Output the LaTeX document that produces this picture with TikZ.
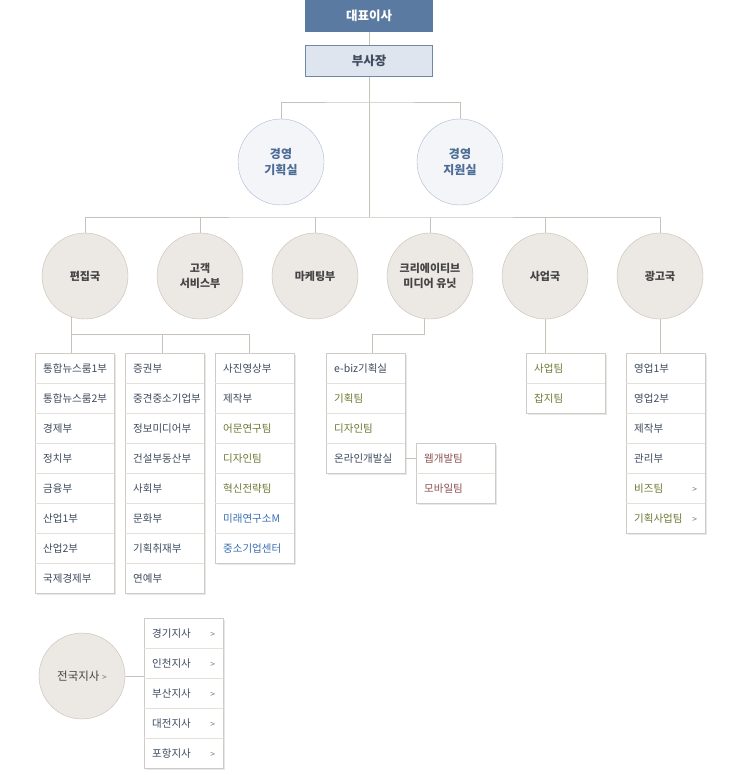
\documentclass[tikz,border=0pt]{standalone}
\usepackage{fontspec}
\setmainfont{Noto Sans CJK KR}
\usetikzlibrary{positioning, fit, backgrounds, shadows}

\definecolor{ceoblue}{HTML}{5B7AA1}
\definecolor{vpfill}{HTML}{DEE5EE}
\definecolor{vpline}{HTML}{6F88A8}
\definecolor{offfill}{HTML}{F3F5F8}
\definecolor{offline}{HTML}{A8B9CF}
\definecolor{offtext}{HTML}{4D6C96}
\definecolor{deptfill}{HTML}{ECE8E3}
\definecolor{deptline}{HTML}{C6BEB4}
\definecolor{depttext}{HTML}{444444}
\definecolor{linegray}{HTML}{C8C2BA}
\definecolor{frameline}{HTML}{D0CBC4}
\definecolor{sepline}{HTML}{E4E0DB}
\definecolor{ink}{HTML}{3F4B5E}
\definecolor{olive}{HTML}{6C7A35}
\definecolor{linkblue}{HTML}{3A6FB4}
\definecolor{rust}{HTML}{8E5252}
\definecolor{chevgray}{HTML}{777777}

\newcommand{\morechev}{\hskip 0pt plus 1fill{\color{chevgray}\fontsize{8.5}{8}\selectfont >}}

\begin{document}
\begin{tikzpicture}[
        x=1pt, y=-1pt,
        ceo/.style={
            fill=ceoblue,
            text=white,
            minimum width=128pt,
            minimum height=32pt,
            font=\bfseries\fontsize{12.5}{14}\selectfont
        },
        vp/.style={
            draw=vpline,
            fill=vpfill,
            text=ink,
            line width=0.9pt,
            minimum width=127pt,
            minimum height=31pt,
            font=\bfseries\fontsize{12.5}{14}\selectfont
        },
        office/.style={
            circle,
            draw=offline,
            fill=offfill,
            text=offtext,
            minimum size=86pt,
            inner sep=0pt,
            align=center,
            font=\bfseries\fontsize{12}{16}\selectfont
        },
        dept/.style={
            circle,
            draw=deptline,
            fill=deptfill,
            text=depttext,
            minimum size=86pt,
            inner sep=0pt,
            align=center,
            font=\bfseries\fontsize{11}{15}\selectfont
        },
        item/.style={
            anchor=north west,
            minimum height=30pt,
            text width=63pt,
            inner xsep=8pt,
            inner ysep=0pt,
            align=left,
            font=\fontsize{10.5}{12}\selectfont
        },
        frame/.style={
            draw=frameline,
            fill=white,
            inner sep=0pt,
            drop shadow={shadow xshift=1.5pt, shadow yshift=-1.5pt, opacity=0.18}
        },
        sep/.style={draw=sepline, line width=0.6pt},
        link/.style={draw=linegray, line width=0.8pt}
    ]
    \useasboundingbox (0,0) rectangle (740,775);

    % top
    \node[ceo] (ceo) at (369,16) {대표이사};
    \node[vp] (vp) at (369,61) {부사장};

    \node[office] (plan) at (281,162) {경영\\기획실};
    \node[office] (supp) at (460,162) {경영\\지원실};

    % departments
    \node[dept] (news) at (85,276) {편집국};
    \node[dept] (cs) at (200,276) {고객\\서비스부};
    \node[dept] (mkt) at (315,276) {마케팅부};
    \node[dept] (cmu) at (430,276) {크리에이티브\\미디어 유닛};
    \node[dept] (biz) at (545,276) {사업국};
    \node[dept] (adv) at (660,276) {광고국};
    \node[dept, font=\fontsize{11.5}{15}\selectfont] (brch) at (82,676) {전국지사\ {\color{chevgray}\fontsize{8.5}{8}\selectfont >}};

    \coordinate (hubA) at (369,102);
    \coordinate (hubB) at (369,217);

    \draw[link] (ceo) -- (vp);
    \draw[link] (vp) -- (hubB);
    \draw[link] (plan) |- (hubA) -| (supp);
    \draw[link] (news) |- (hubB) -| (adv);
    \foreach \d in {cs, mkt, cmu, biz}
        \draw[link] (\d) -- (\d |- hubB);

    % 편집국 lists
    \foreach \t [count=\i] in {통합뉴스룸1부, 통합뉴스룸2부, 경제부, 정치부, 금융부, 산업1부, 산업2부, 국제경제부} {
        \node[item, text=ink] (nwa-\i) at (35,323+30*\i) {\t};
        \ifnum\i>1 \draw[sep] (nwa-\i.north west) -- (nwa-\i.north east); \fi
    }
    \foreach \t [count=\i] in {증권부, 중견중소기업부, 정보미디어부, 건설부동산부, 사회부, 문화부, 기획취재부, 연예부} {
        \node[item, text=ink] (nwb-\i) at (125,323+30*\i) {\t};
        \ifnum\i>1 \draw[sep] (nwb-\i.north west) -- (nwb-\i.north east); \fi
    }
    \foreach \t/\c [count=\i] in {사진영상부/ink, 제작부/ink, 어문연구팀/olive, 디자인팀/olive, 혁신전략팀/olive, 미래연구소M/linkblue, 중소기업센터/linkblue} {
        \node[item, text=\c] (nwc-\i) at (215,323+30*\i) {\t};
        \ifnum\i>1 \draw[sep] (nwc-\i.north west) -- (nwc-\i.north east); \fi
    }

    % 크리에이티브 미디어 유닛 lists
    \foreach \t/\c [count=\i] in {e-biz기획실/ink, 기획팀/olive, 디자인팀/olive, 온라인개발실/ink} {
        \node[item, text=\c] (cr-\i) at (326,323+30*\i) {\t};
        \ifnum\i>1 \draw[sep] (cr-\i.north west) -- (cr-\i.north east); \fi
    }
    \foreach \t [count=\i] in {웹개발팀, 모바일팀} {
        \node[item, text=rust] (web-\i) at (416,413+30*\i) {\t};
        \ifnum\i>1 \draw[sep] (web-\i.north west) -- (web-\i.north east); \fi
    }

    % 사업국, 광고국 lists
    \foreach \t [count=\i] in {사업팀, 잡지팀} {
        \node[item, text=olive] (bz-\i) at (526,323+30*\i) {\t};
        \ifnum\i>1 \draw[sep] (bz-\i.north west) -- (bz-\i.north east); \fi
    }
    \foreach \t/\c [count=\i] in {영업1부/ink, 영업2부/ink, 제작부/ink, 관리부/ink, 비즈팀\morechev/olive, 기획사업팀\morechev/olive} {
        \node[item, text=\c] (ad-\i) at (626,323+30*\i) {\t};
        \ifnum\i>1 \draw[sep] (ad-\i.north west) -- (ad-\i.north east); \fi
    }

    % 전국지사 list
    \foreach \t [count=\i] in {경기지사, 인천지사, 부산지사, 대전지사, 포항지사} {
        \node[item, text=ink] (br-\i) at (144,588+30*\i) {\t\morechev};
        \ifnum\i>1 \draw[sep] (br-\i.north west) -- (br-\i.north east); \fi
    }

    \begin{scope}[on background layer]
        \node[frame, fit=(nwa-1)(nwa-8)] (nwa) {};
        \node[frame, fit=(nwb-1)(nwb-8)] (nwb) {};
        \node[frame, fit=(nwc-1)(nwc-7)] (nwc) {};
        \node[frame, fit=(cr-1)(cr-4)] (cr) {};
        \node[frame, fit=(web-1)(web-2)] (web) {};
        \node[frame, fit=(bz-1)(bz-2)] (bz) {};
        \node[frame, fit=(ad-1)(ad-6)] (ad) {};
        \node[frame, fit=(br-1)(br-5)] (br) {};
    \end{scope}

    % lower connectors
    \coordinate (nwL) at (71,334);
    \coordinate (nwM) at (162,334);
    \coordinate (nwR) at (249,334);
    \draw[link] (news.-109) |- (nwR) -- (nwR |- nwc.north);
    \draw[link] (nwL) -- (nwL |- nwa.north);
    \draw[link] (nwM) -- (nwM |- nwb.north);

    \coordinate (crT) at (372,334);
    \draw[link] (cmu.-97) |- (crT) -- (crT |- cr.north);
    \draw[link] (cr-4.east) -- (cr-4.east -| web.west);

    \draw[link] (biz) -- (biz |- bz.north);
    \draw[link] (adv) -- (adv |- ad.north);
    \draw[link] (brch) -- (brch -| br.west);
\end{tikzpicture}
\end{document}
